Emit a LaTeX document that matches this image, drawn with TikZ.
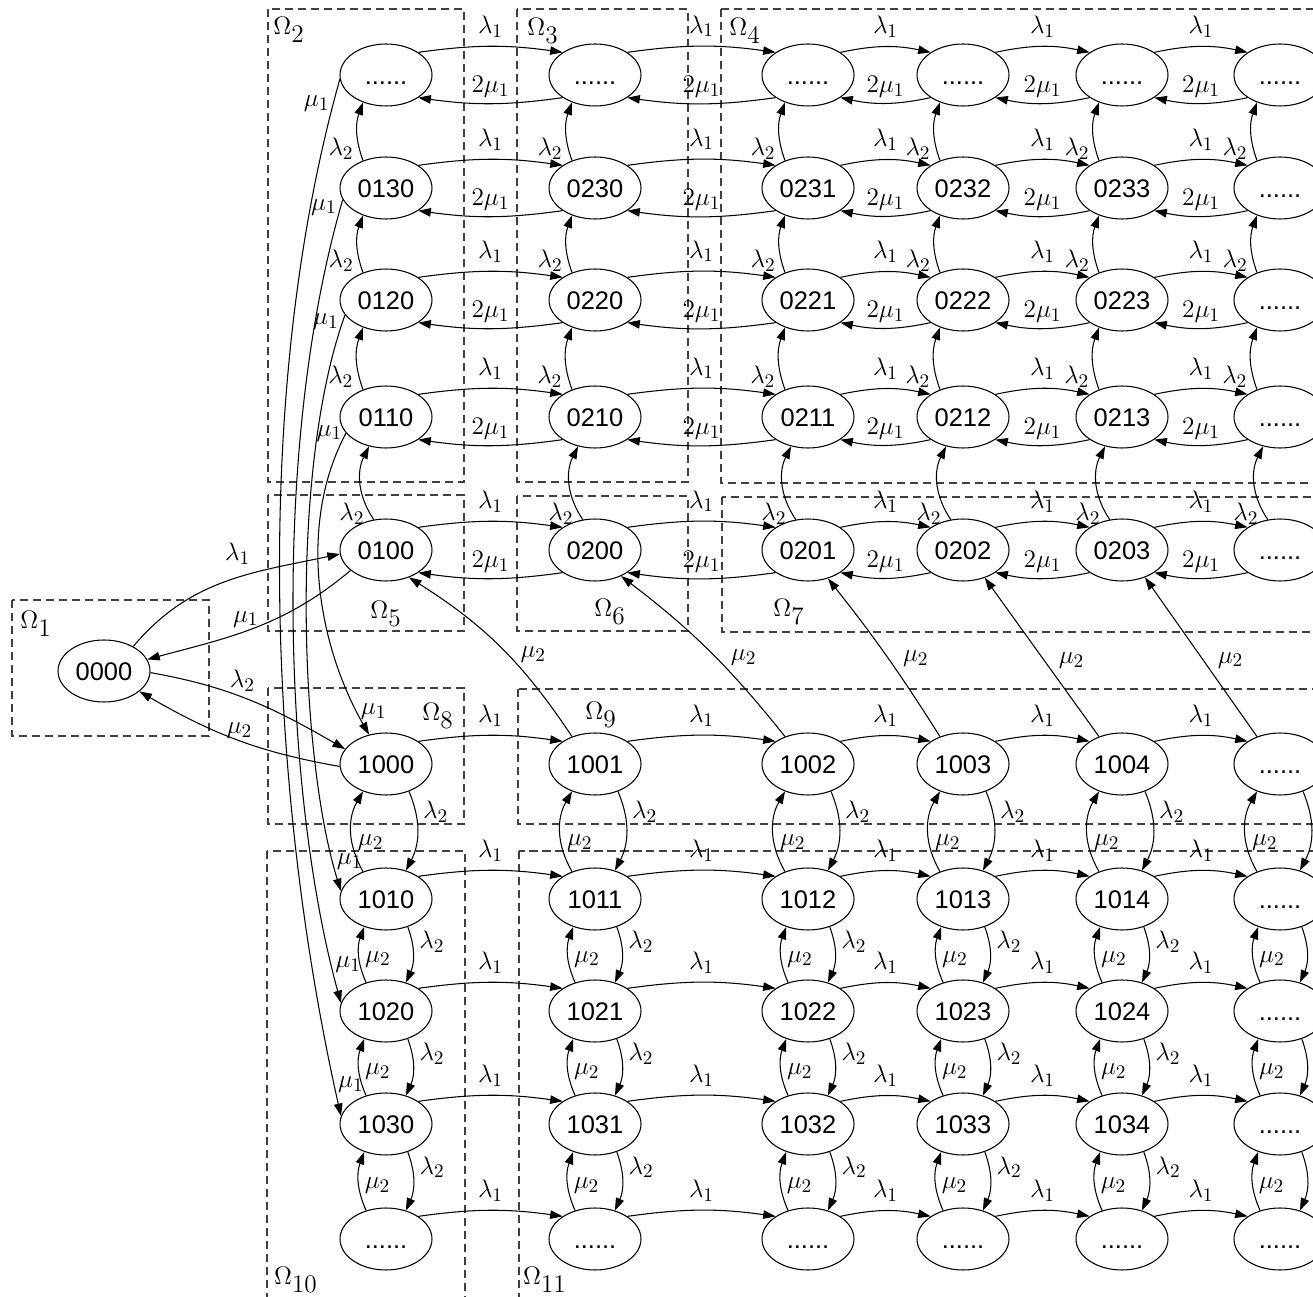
\documentclass[tikz,border=0pt]{standalone}
\usepackage{amsmath}
\usepackage{fontspec}
\usepackage{tikz}
\usetikzlibrary{arrows.meta, shapes.geometric}
\newfontfamily\arialfont{Liberation Sans}
\newcommand{\om}[1]{$\Omega_{\textstyle #1}$}
\tikzset{
	state/.style={ellipse, draw, line width=0.6pt, minimum width=1.84cm, minimum height=1.24cm, inner sep=0pt, text height=10.4pt, text depth=0pt, font=\arialfont\fontsize{14.5}{16}\selectfont},
	trans/.style={-{Triangle[length=2.5mm, width=1.7mm]}, line width=0.6pt},
	rate/.style={font=\fontsize{15.5}{17}\selectfont, inner sep=1pt},
	region/.style={draw=black!75, dash pattern=on 1.7mm off 0.9mm, line width=0.6pt},
	omlabel/.style={font=\fontsize{13.5}{15}\selectfont, inner sep=0pt},
}
\begin{document}
\begin{tikzpicture}[x=0.02cm, y=-0.02cm]
	\useasboundingbox (0,0) rectangle (1313,1297);
	\clip (0,0) rectangle (1313,1297);
	% Regions:
	\draw[region] (12,600) rectangle (209,736);
	\draw[region] (268,9) rectangle (464,482);
	\draw[region] (517,9) rectangle (688,482);
	\draw[region] (721,9) rectangle (1330,483);
	\draw[region] (268,495) rectangle (464,631);
	\draw[region] (517,496) rectangle (688,631);
	\draw[region] (722,497) rectangle (1330,632);
	\draw[region] (268,688) rectangle (464,824);
	\draw[region] (518,689) rectangle (1330,824);
	\draw[region] (267,851) rectangle (465,1310);
	\draw[region] (519,851) rectangle (1330,1310);
	\node[omlabel] (om1) at (36,624) {\om{1}};
	\node[omlabel] (om2) at (289,30) {\om{2}};
	\node[omlabel] (om3) at (543,31) {\om{3}};
	\node[omlabel] (om4) at (745,31) {\om{4}};
	\node[omlabel] (om5) at (386,614) {\om{5}};
	\node[omlabel] (om6) at (610,612) {\om{6}};
	\node[omlabel] (om7) at (789,612) {\om{7}};
	\node[omlabel] (om8) at (438,716) {\om{8}};
	\node[omlabel] (om9) at (601,715) {\om{9}};
	\node[omlabel] (om10) at (296,1280) {\om{10}};
	\node[omlabel] (om11) at (545,1280) {\om{11}};
	% States:
	\node[state] (s0000) at (104,671) {0000};
	\node[state] (s0100) at (386,550) {0100};
	\node[state] (s0110) at (386,417) {0110};
	\node[state] (s0120) at (386,300) {0120};
	\node[state] (s0130) at (386,188) {0130};
	\node[state] (s0140) at (386,75) {......};
	\node[state] (s0200) at (595,550) {0200};
	\node[state] (s0210) at (595,417) {0210};
	\node[state] (s0220) at (595,300) {0220};
	\node[state] (s0230) at (595,188) {0230};
	\node[state] (s0240) at (595,75) {......};
	\node[state] (s0201) at (808,550) {0201};
	\node[state] (s0211) at (808,417) {0211};
	\node[state] (s0221) at (808,300) {0221};
	\node[state] (s0231) at (808,188) {0231};
	\node[state] (s0241) at (808,75) {......};
	\node[state] (s0202) at (963,550) {0202};
	\node[state] (s0212) at (963,417) {0212};
	\node[state] (s0222) at (963,300) {0222};
	\node[state] (s0232) at (963,188) {0232};
	\node[state] (s0242) at (963,75) {......};
	\node[state] (s0203) at (1122,550) {0203};
	\node[state] (s0213) at (1122,417) {0213};
	\node[state] (s0223) at (1122,300) {0223};
	\node[state] (s0233) at (1122,188) {0233};
	\node[state] (s0243) at (1122,75) {......};
	\node[state] (s0204) at (1280,550) {......};
	\node[state] (s0214) at (1280,417) {......};
	\node[state] (s0224) at (1280,300) {......};
	\node[state] (s0234) at (1280,188) {......};
	\node[state] (s0244) at (1280,75) {......};
	\node[state] (s1000) at (386,764) {1000};
	\node[state] (s1010) at (386,899) {1010};
	\node[state] (s1020) at (386,1011) {1020};
	\node[state] (s1030) at (386,1124) {1030};
	\node[state] (s1040) at (386,1239) {......};
	\node[state] (s1001) at (595,764) {1001};
	\node[state] (s1011) at (595,899) {1011};
	\node[state] (s1021) at (595,1011) {1021};
	\node[state] (s1031) at (595,1124) {1031};
	\node[state] (s1041) at (595,1239) {......};
	\node[state] (s1002) at (808,764) {1002};
	\node[state] (s1012) at (808,899) {1012};
	\node[state] (s1022) at (808,1011) {1022};
	\node[state] (s1032) at (808,1124) {1032};
	\node[state] (s1042) at (808,1239) {......};
	\node[state] (s1003) at (963,764) {1003};
	\node[state] (s1013) at (963,899) {1013};
	\node[state] (s1023) at (963,1011) {1023};
	\node[state] (s1033) at (963,1124) {1033};
	\node[state] (s1043) at (963,1239) {......};
	\node[state] (s1004) at (1122,764) {1004};
	\node[state] (s1014) at (1122,899) {1014};
	\node[state] (s1024) at (1122,1011) {1024};
	\node[state] (s1034) at (1122,1124) {1034};
	\node[state] (s1044) at (1122,1239) {......};
	\node[state] (s1005) at (1280,764) {......};
	\node[state] (s1015) at (1280,899) {......};
	\node[state] (s1025) at (1280,1011) {......};
	\node[state] (s1035) at (1280,1124) {......};
	\node[state] (s1045) at (1280,1239) {......};
	% From and to 0000:
	\draw[trans] (s0000.40) to[out=50, in=192] node[rate, pos=0.56, above=6pt] {$\lambda_1$} (s0100.185);
	\draw[trans] (s0100.210) to[out=220, in=15] node[rate, pos=0.55, above=1pt] {$\mu_1$} (s0000.15);
	\draw[trans] (s0000.-2) to[out=-10, in=150] node[rate, pos=0.45, above=2pt] {$\lambda_2$} (s1000.160);
	\draw[trans] (s1000.183) to[out=170, in=-30] node[rate, pos=0.48, above=0pt] {$\mu_2$} (s0000.-30);
	% Long mu_1 transitions:
	\draw[trans] (s0140.185) .. controls +(-90,321) and +(-71,-316) .. node[rate, pos=0.025, left=1pt] {$\mu_1$} node[rate, pos=0.967, right=1pt] {$\mu_1$} (s1030.170);
	\draw[trans] (s0130.195) .. controls +(-73,251) and +(-56,-203) .. node[rate, pos=0.01, left=1pt] {$\mu_1$} node[rate, pos=0.94, right=1pt] {$\mu_1$} (s1020.170);
	\draw[trans] (s0120.200) .. controls +(-56,155) and +(-41,-131) .. node[rate, pos=0.015, left=1pt] {$\mu_1$} node[rate, pos=0.93, right=1pt] {$\mu_1$} (s1010.170);
	\draw[trans] (s0110.202) .. controls +(-47,87) and +(-54,-95) .. node[rate, pos=0.0, left=1pt] {$\mu_1$} node[rate, pos=0.92, right=1pt] {$\mu_1$} (s1000.120);
	% Upper block, rows:
	\draw[trans] (s0100.35) to[bend left=8] node[rate, midway, above=4pt] {$\lambda_1$} (s0200.145);
	\draw[trans] (s0200.-145) to[bend left=8] node[rate, midway, above=2pt] {$2\mu_1$} (s0100.-35);
	\draw[trans] (s0200.35) to[bend left=8] node[rate, midway, above=4pt] {$\lambda_1$} (s0201.145);
	\draw[trans] (s0201.-145) to[bend left=8] node[rate, midway, above=2pt] {$2\mu_1$} (s0200.-35);
	\draw[trans] (s0201.35) to[bend left=12] node[rate, midway, above=4pt] {$\lambda_1$} (s0202.145);
	\draw[trans] (s0202.-145) to[bend left=12] node[rate, midway, above=2pt] {$2\mu_1$} (s0201.-35);
	\draw[trans] (s0202.35) to[bend left=12] node[rate, midway, above=4pt] {$\lambda_1$} (s0203.145);
	\draw[trans] (s0203.-145) to[bend left=12] node[rate, midway, above=2pt] {$2\mu_1$} (s0202.-35);
	\draw[trans] (s0203.35) to[bend left=12] node[rate, midway, above=4pt] {$\lambda_1$} (s0204.145);
	\draw[trans] (s0204.-145) to[bend left=12] node[rate, midway, above=2pt] {$2\mu_1$} (s0203.-35);
	\draw[trans] (s0110.35) to[bend left=8] node[rate, midway, above=4pt] {$\lambda_1$} (s0210.145);
	\draw[trans] (s0210.-145) to[bend left=8] node[rate, midway, above=2pt] {$2\mu_1$} (s0110.-35);
	\draw[trans] (s0210.35) to[bend left=8] node[rate, midway, above=4pt] {$\lambda_1$} (s0211.145);
	\draw[trans] (s0211.-145) to[bend left=8] node[rate, midway, above=2pt] {$2\mu_1$} (s0210.-35);
	\draw[trans] (s0211.35) to[bend left=12] node[rate, midway, above=4pt] {$\lambda_1$} (s0212.145);
	\draw[trans] (s0212.-145) to[bend left=12] node[rate, midway, above=2pt] {$2\mu_1$} (s0211.-35);
	\draw[trans] (s0212.35) to[bend left=12] node[rate, midway, above=4pt] {$\lambda_1$} (s0213.145);
	\draw[trans] (s0213.-145) to[bend left=12] node[rate, midway, above=2pt] {$2\mu_1$} (s0212.-35);
	\draw[trans] (s0213.35) to[bend left=12] node[rate, midway, above=4pt] {$\lambda_1$} (s0214.145);
	\draw[trans] (s0214.-145) to[bend left=12] node[rate, midway, above=2pt] {$2\mu_1$} (s0213.-35);
	\draw[trans] (s0120.35) to[bend left=8] node[rate, midway, above=4pt] {$\lambda_1$} (s0220.145);
	\draw[trans] (s0220.-145) to[bend left=8] node[rate, midway, above=2pt] {$2\mu_1$} (s0120.-35);
	\draw[trans] (s0220.35) to[bend left=8] node[rate, midway, above=4pt] {$\lambda_1$} (s0221.145);
	\draw[trans] (s0221.-145) to[bend left=8] node[rate, midway, above=2pt] {$2\mu_1$} (s0220.-35);
	\draw[trans] (s0221.35) to[bend left=12] node[rate, midway, above=4pt] {$\lambda_1$} (s0222.145);
	\draw[trans] (s0222.-145) to[bend left=12] node[rate, midway, above=2pt] {$2\mu_1$} (s0221.-35);
	\draw[trans] (s0222.35) to[bend left=12] node[rate, midway, above=4pt] {$\lambda_1$} (s0223.145);
	\draw[trans] (s0223.-145) to[bend left=12] node[rate, midway, above=2pt] {$2\mu_1$} (s0222.-35);
	\draw[trans] (s0223.35) to[bend left=12] node[rate, midway, above=4pt] {$\lambda_1$} (s0224.145);
	\draw[trans] (s0224.-145) to[bend left=12] node[rate, midway, above=2pt] {$2\mu_1$} (s0223.-35);
	\draw[trans] (s0130.35) to[bend left=8] node[rate, midway, above=4pt] {$\lambda_1$} (s0230.145);
	\draw[trans] (s0230.-145) to[bend left=8] node[rate, midway, above=2pt] {$2\mu_1$} (s0130.-35);
	\draw[trans] (s0230.35) to[bend left=8] node[rate, midway, above=4pt] {$\lambda_1$} (s0231.145);
	\draw[trans] (s0231.-145) to[bend left=8] node[rate, midway, above=2pt] {$2\mu_1$} (s0230.-35);
	\draw[trans] (s0231.35) to[bend left=12] node[rate, midway, above=4pt] {$\lambda_1$} (s0232.145);
	\draw[trans] (s0232.-145) to[bend left=12] node[rate, midway, above=2pt] {$2\mu_1$} (s0231.-35);
	\draw[trans] (s0232.35) to[bend left=12] node[rate, midway, above=4pt] {$\lambda_1$} (s0233.145);
	\draw[trans] (s0233.-145) to[bend left=12] node[rate, midway, above=2pt] {$2\mu_1$} (s0232.-35);
	\draw[trans] (s0233.35) to[bend left=12] node[rate, midway, above=4pt] {$\lambda_1$} (s0234.145);
	\draw[trans] (s0234.-145) to[bend left=12] node[rate, midway, above=2pt] {$2\mu_1$} (s0233.-35);
	\draw[trans] (s0140.35) to[bend left=8] node[rate, midway, above=4pt] {$\lambda_1$} (s0240.145);
	\draw[trans] (s0240.-145) to[bend left=8] node[rate, midway, above=2pt] {$2\mu_1$} (s0140.-35);
	\draw[trans] (s0240.35) to[bend left=8] node[rate, midway, above=4pt] {$\lambda_1$} (s0241.145);
	\draw[trans] (s0241.-145) to[bend left=8] node[rate, midway, above=2pt] {$2\mu_1$} (s0240.-35);
	\draw[trans] (s0241.35) to[bend left=12] node[rate, midway, above=4pt] {$\lambda_1$} (s0242.145);
	\draw[trans] (s0242.-145) to[bend left=12] node[rate, midway, above=2pt] {$2\mu_1$} (s0241.-35);
	\draw[trans] (s0242.35) to[bend left=12] node[rate, midway, above=4pt] {$\lambda_1$} (s0243.145);
	\draw[trans] (s0243.-145) to[bend left=12] node[rate, midway, above=2pt] {$2\mu_1$} (s0242.-35);
	\draw[trans] (s0243.35) to[bend left=12] node[rate, midway, above=4pt] {$\lambda_1$} (s0244.145);
	\draw[trans] (s0244.-145) to[bend left=12] node[rate, midway, above=2pt] {$2\mu_1$} (s0243.-35);
	% Upper block, columns:
	\draw[trans] (s0100.112) to[bend left=30] node[rate, pos=0.08, left=2pt] {$\lambda_2$} (s0110.240);
	\draw[trans] (s0110.130) to[bend left=20] node[rate, pos=0.2, left=2pt] {$\lambda_2$} (s0120.230);
	\draw[trans] (s0120.130) to[bend left=20] node[rate, pos=0.2, left=2pt] {$\lambda_2$} (s0130.230);
	\draw[trans] (s0130.130) to[bend left=20] node[rate, pos=0.2, left=2pt] {$\lambda_2$} (s0140.230);
	\draw[trans] (s0200.112) to[bend left=30] node[rate, pos=0.08, left=2pt] {$\lambda_2$} (s0210.240);
	\draw[trans] (s0210.130) to[bend left=20] node[rate, pos=0.2, left=2pt] {$\lambda_2$} (s0220.230);
	\draw[trans] (s0220.130) to[bend left=20] node[rate, pos=0.2, left=2pt] {$\lambda_2$} (s0230.230);
	\draw[trans] (s0230.130) to[bend left=20] node[rate, pos=0.2, left=2pt] {$\lambda_2$} (s0240.230);
	\draw[trans] (s0201.112) to[bend left=30] node[rate, pos=0.08, left=2pt] {$\lambda_2$} (s0211.240);
	\draw[trans] (s0211.130) to[bend left=20] node[rate, pos=0.2, left=2pt] {$\lambda_2$} (s0221.230);
	\draw[trans] (s0221.130) to[bend left=20] node[rate, pos=0.2, left=2pt] {$\lambda_2$} (s0231.230);
	\draw[trans] (s0231.130) to[bend left=20] node[rate, pos=0.2, left=2pt] {$\lambda_2$} (s0241.230);
	\draw[trans] (s0202.112) to[bend left=30] node[rate, pos=0.08, left=2pt] {$\lambda_2$} (s0212.240);
	\draw[trans] (s0212.130) to[bend left=20] node[rate, pos=0.2, left=2pt] {$\lambda_2$} (s0222.230);
	\draw[trans] (s0222.130) to[bend left=20] node[rate, pos=0.2, left=2pt] {$\lambda_2$} (s0232.230);
	\draw[trans] (s0232.130) to[bend left=20] node[rate, pos=0.2, left=2pt] {$\lambda_2$} (s0242.230);
	\draw[trans] (s0203.112) to[bend left=30] node[rate, pos=0.08, left=2pt] {$\lambda_2$} (s0213.240);
	\draw[trans] (s0213.130) to[bend left=20] node[rate, pos=0.2, left=2pt] {$\lambda_2$} (s0223.230);
	\draw[trans] (s0223.130) to[bend left=20] node[rate, pos=0.2, left=2pt] {$\lambda_2$} (s0233.230);
	\draw[trans] (s0233.130) to[bend left=20] node[rate, pos=0.2, left=2pt] {$\lambda_2$} (s0243.230);
	\draw[trans] (s0204.112) to[bend left=30] node[rate, pos=0.08, left=2pt] {$\lambda_2$} (s0214.240);
	\draw[trans] (s0214.130) to[bend left=20] node[rate, pos=0.2, left=2pt] {$\lambda_2$} (s0224.230);
	\draw[trans] (s0224.130) to[bend left=20] node[rate, pos=0.2, left=2pt] {$\lambda_2$} (s0234.230);
	\draw[trans] (s0234.130) to[bend left=20] node[rate, pos=0.2, left=2pt] {$\lambda_2$} (s0244.230);
	% Lower to upper block:
	\draw[trans] (s1001.130) to[bend right=12] node[rate, pos=0.45, right=6pt] {$\mu_2$} (s0100.-50);
	\draw[trans] (s1002.130) to[bend right=7] node[rate, pos=0.45, right=7pt] {$\mu_2$} (s0200.-45);
	\draw[trans] (s1003.130) to[bend right=3] node[rate, pos=0.48, right=7pt] {$\mu_2$} (s0201.-55);
	\draw[trans] (s1004.130) to node[rate, pos=0.48, right=7pt] {$\mu_2$} (s0202.-52);
	\draw[trans] (s1005.130) to node[rate, pos=0.48, right=7pt] {$\mu_2$} (s0203.-50);
	% Lower block, rows:
	\draw[trans] (s1000.35) to[bend left=8] node[rate, midway, above=4pt] {$\lambda_1$} (s1001.145);
	\draw[trans] (s1001.35) to[bend left=8] node[rate, midway, above=4pt] {$\lambda_1$} (s1002.145);
	\draw[trans] (s1002.35) to[bend left=12] node[rate, midway, above=4pt] {$\lambda_1$} (s1003.145);
	\draw[trans] (s1003.35) to[bend left=12] node[rate, midway, above=4pt] {$\lambda_1$} (s1004.145);
	\draw[trans] (s1004.35) to[bend left=12] node[rate, midway, above=4pt] {$\lambda_1$} (s1005.145);
	\draw[trans] (s1010.35) to[bend left=8] node[rate, midway, above=4pt] {$\lambda_1$} (s1011.145);
	\draw[trans] (s1011.35) to[bend left=8] node[rate, midway, above=4pt] {$\lambda_1$} (s1012.145);
	\draw[trans] (s1012.35) to[bend left=12] node[rate, midway, above=4pt] {$\lambda_1$} (s1013.145);
	\draw[trans] (s1013.35) to[bend left=12] node[rate, midway, above=4pt] {$\lambda_1$} (s1014.145);
	\draw[trans] (s1014.35) to[bend left=12] node[rate, midway, above=4pt] {$\lambda_1$} (s1015.145);
	\draw[trans] (s1020.35) to[bend left=8] node[rate, midway, above=4pt] {$\lambda_1$} (s1021.145);
	\draw[trans] (s1021.35) to[bend left=8] node[rate, midway, above=4pt] {$\lambda_1$} (s1022.145);
	\draw[trans] (s1022.35) to[bend left=12] node[rate, midway, above=4pt] {$\lambda_1$} (s1023.145);
	\draw[trans] (s1023.35) to[bend left=12] node[rate, midway, above=4pt] {$\lambda_1$} (s1024.145);
	\draw[trans] (s1024.35) to[bend left=12] node[rate, midway, above=4pt] {$\lambda_1$} (s1025.145);
	\draw[trans] (s1030.35) to[bend left=8] node[rate, midway, above=4pt] {$\lambda_1$} (s1031.145);
	\draw[trans] (s1031.35) to[bend left=8] node[rate, midway, above=4pt] {$\lambda_1$} (s1032.145);
	\draw[trans] (s1032.35) to[bend left=12] node[rate, midway, above=4pt] {$\lambda_1$} (s1033.145);
	\draw[trans] (s1033.35) to[bend left=12] node[rate, midway, above=4pt] {$\lambda_1$} (s1034.145);
	\draw[trans] (s1034.35) to[bend left=12] node[rate, midway, above=4pt] {$\lambda_1$} (s1035.145);
	\draw[trans] (s1040.35) to[bend left=8] node[rate, midway, above=4pt] {$\lambda_1$} (s1041.145);
	\draw[trans] (s1041.35) to[bend left=8] node[rate, midway, above=4pt] {$\lambda_1$} (s1042.145);
	\draw[trans] (s1042.35) to[bend left=12] node[rate, midway, above=4pt] {$\lambda_1$} (s1043.145);
	\draw[trans] (s1043.35) to[bend left=12] node[rate, midway, above=4pt] {$\lambda_1$} (s1044.145);
	\draw[trans] (s1044.35) to[bend left=12] node[rate, midway, above=4pt] {$\lambda_1$} (s1045.145);
	% Lower block, columns:
	\draw[trans] (s1000.-50) to[bend left=25] node[rate, pos=0.25, right=3pt] {$\lambda_2$} (s1010.55);
	\draw[trans] (s1010.130) to[bend left=30] node[rate, pos=0.36, right=2pt] {$\mu_2$} (s1000.230);
	\draw[trans] (s1010.-52) to[bend left=22] node[rate, pos=0.25, right=3pt] {$\lambda_2$} (s1020.55);
	\draw[trans] (s1020.125) to[bend left=22] node[rate, pos=0.42, right=2pt] {$\mu_2$} (s1010.232);
	\draw[trans] (s1020.-52) to[bend left=22] node[rate, pos=0.25, right=3pt] {$\lambda_2$} (s1030.55);
	\draw[trans] (s1030.125) to[bend left=22] node[rate, pos=0.42, right=2pt] {$\mu_2$} (s1020.232);
	\draw[trans] (s1030.-52) to[bend left=22] node[rate, pos=0.25, right=3pt] {$\lambda_2$} (s1040.55);
	\draw[trans] (s1040.125) to[bend left=22] node[rate, pos=0.42, right=2pt] {$\mu_2$} (s1030.232);
	\draw[trans] (s1001.-50) to[bend left=25] node[rate, pos=0.25, right=3pt] {$\lambda_2$} (s1011.55);
	\draw[trans] (s1011.130) to[bend left=30] node[rate, pos=0.36, right=2pt] {$\mu_2$} (s1001.230);
	\draw[trans] (s1011.-52) to[bend left=22] node[rate, pos=0.25, right=3pt] {$\lambda_2$} (s1021.55);
	\draw[trans] (s1021.125) to[bend left=22] node[rate, pos=0.42, right=2pt] {$\mu_2$} (s1011.232);
	\draw[trans] (s1021.-52) to[bend left=22] node[rate, pos=0.25, right=3pt] {$\lambda_2$} (s1031.55);
	\draw[trans] (s1031.125) to[bend left=22] node[rate, pos=0.42, right=2pt] {$\mu_2$} (s1021.232);
	\draw[trans] (s1031.-52) to[bend left=22] node[rate, pos=0.25, right=3pt] {$\lambda_2$} (s1041.55);
	\draw[trans] (s1041.125) to[bend left=22] node[rate, pos=0.42, right=2pt] {$\mu_2$} (s1031.232);
	\draw[trans] (s1002.-50) to[bend left=25] node[rate, pos=0.25, right=3pt] {$\lambda_2$} (s1012.55);
	\draw[trans] (s1012.130) to[bend left=30] node[rate, pos=0.36, right=2pt] {$\mu_2$} (s1002.230);
	\draw[trans] (s1012.-52) to[bend left=22] node[rate, pos=0.25, right=3pt] {$\lambda_2$} (s1022.55);
	\draw[trans] (s1022.125) to[bend left=22] node[rate, pos=0.42, right=2pt] {$\mu_2$} (s1012.232);
	\draw[trans] (s1022.-52) to[bend left=22] node[rate, pos=0.25, right=3pt] {$\lambda_2$} (s1032.55);
	\draw[trans] (s1032.125) to[bend left=22] node[rate, pos=0.42, right=2pt] {$\mu_2$} (s1022.232);
	\draw[trans] (s1032.-52) to[bend left=22] node[rate, pos=0.25, right=3pt] {$\lambda_2$} (s1042.55);
	\draw[trans] (s1042.125) to[bend left=22] node[rate, pos=0.42, right=2pt] {$\mu_2$} (s1032.232);
	\draw[trans] (s1003.-50) to[bend left=25] node[rate, pos=0.25, right=3pt] {$\lambda_2$} (s1013.55);
	\draw[trans] (s1013.130) to[bend left=30] node[rate, pos=0.36, right=2pt] {$\mu_2$} (s1003.230);
	\draw[trans] (s1013.-52) to[bend left=22] node[rate, pos=0.25, right=3pt] {$\lambda_2$} (s1023.55);
	\draw[trans] (s1023.125) to[bend left=22] node[rate, pos=0.42, right=2pt] {$\mu_2$} (s1013.232);
	\draw[trans] (s1023.-52) to[bend left=22] node[rate, pos=0.25, right=3pt] {$\lambda_2$} (s1033.55);
	\draw[trans] (s1033.125) to[bend left=22] node[rate, pos=0.42, right=2pt] {$\mu_2$} (s1023.232);
	\draw[trans] (s1033.-52) to[bend left=22] node[rate, pos=0.25, right=3pt] {$\lambda_2$} (s1043.55);
	\draw[trans] (s1043.125) to[bend left=22] node[rate, pos=0.42, right=2pt] {$\mu_2$} (s1033.232);
	\draw[trans] (s1004.-50) to[bend left=25] node[rate, pos=0.25, right=3pt] {$\lambda_2$} (s1014.55);
	\draw[trans] (s1014.130) to[bend left=30] node[rate, pos=0.36, right=2pt] {$\mu_2$} (s1004.230);
	\draw[trans] (s1014.-52) to[bend left=22] node[rate, pos=0.25, right=3pt] {$\lambda_2$} (s1024.55);
	\draw[trans] (s1024.125) to[bend left=22] node[rate, pos=0.42, right=2pt] {$\mu_2$} (s1014.232);
	\draw[trans] (s1024.-52) to[bend left=22] node[rate, pos=0.25, right=3pt] {$\lambda_2$} (s1034.55);
	\draw[trans] (s1034.125) to[bend left=22] node[rate, pos=0.42, right=2pt] {$\mu_2$} (s1024.232);
	\draw[trans] (s1034.-52) to[bend left=22] node[rate, pos=0.25, right=3pt] {$\lambda_2$} (s1044.55);
	\draw[trans] (s1044.125) to[bend left=22] node[rate, pos=0.42, right=2pt] {$\mu_2$} (s1034.232);
	\draw[trans] (s1005.-50) to[bend left=25] node[rate, pos=0.25, right=3pt] {$\lambda_2$} (s1015.55);
	\draw[trans] (s1015.130) to[bend left=30] node[rate, pos=0.36, right=2pt] {$\mu_2$} (s1005.230);
	\draw[trans] (s1015.-52) to[bend left=22] node[rate, pos=0.25, right=3pt] {$\lambda_2$} (s1025.55);
	\draw[trans] (s1025.125) to[bend left=22] node[rate, pos=0.42, right=2pt] {$\mu_2$} (s1015.232);
	\draw[trans] (s1025.-52) to[bend left=22] node[rate, pos=0.25, right=3pt] {$\lambda_2$} (s1035.55);
	\draw[trans] (s1035.125) to[bend left=22] node[rate, pos=0.42, right=2pt] {$\mu_2$} (s1025.232);
	\draw[trans] (s1035.-52) to[bend left=22] node[rate, pos=0.25, right=3pt] {$\lambda_2$} (s1045.55);
	\draw[trans] (s1045.125) to[bend left=22] node[rate, pos=0.42, right=2pt] {$\mu_2$} (s1035.232);
\end{tikzpicture}
\end{document}
